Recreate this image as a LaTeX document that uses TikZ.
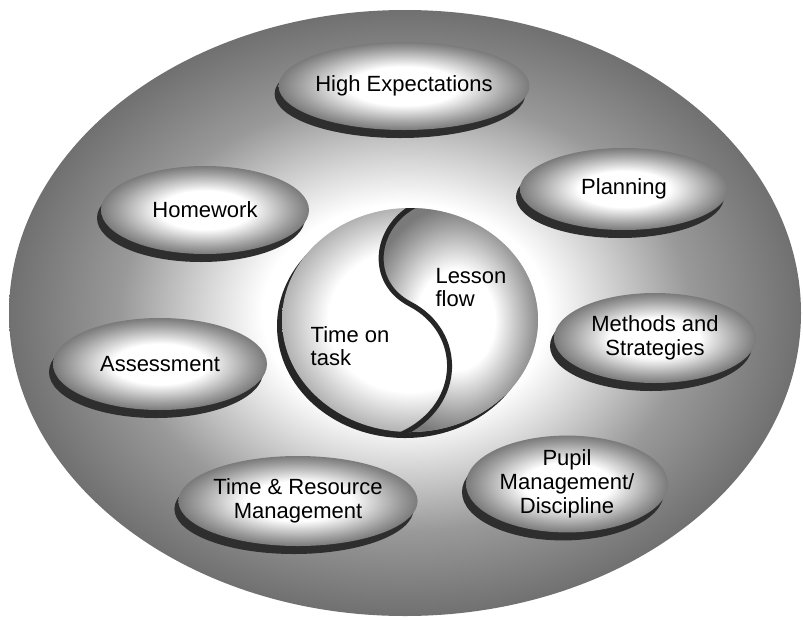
\documentclass[tikz,border=0pt]{standalone}
\usepackage{fontspec}
\setmainfont{Liberation Sans}
\usetikzlibrary{shapes.geometric,shadows}
\pgfdeclareradialshading{blobshade}{\pgfpoint{0bp}{0bp}}{color(0bp)=(white); color(11bp)=(white); color(21bp)=(black!38); color(25bp)=(black!52); color(50bp)=(black!52)}
\pgfdeclareradialshading{bgshade}{\pgfpoint{0bp}{0bp}}{color(0bp)=(white); color(9bp)=(white); color(18bp)=(black!40); color(25bp)=(black!56); color(50bp)=(black!56)}
\pgfdeclareradialshading{leftshade}{\pgfpoint{0bp}{0bp}}{color(0bp)=(white); color(16bp)=(white); color(25bp)=(black!30); color(50bp)=(black!30)}
\tikzset{
  topic/.style={ellipse, shade, shading=blobshade, inner sep=0pt,
    minimum width=208pt, minimum height=88pt, align=center,
    font=\fontsize{22}{24}\selectfont,
    drop shadow={shadow xshift=-4pt, shadow yshift=-8pt, fill=black!82, opacity=1}},
  backdrop/.style={ellipse, shade, shading=bgshade, inner sep=0pt},
  coretext/.style={align=left, inner sep=0pt, font=\fontsize{22}{23}\selectfont},
  sband/.style={line width=5pt, draw=black!85}
}
\begin{document}
\begin{tikzpicture}[x=1pt,y=-1pt]
\useasboundingbox (0,0) rectangle (803,619);
% background
\node[backdrop, minimum width=792pt, minimum height=606pt] (bg) at (405,313) {};
% topic ellipses
\node[topic] (he) at (404,86) {High Expectations};
\node[topic, minimum height=82pt] (pl) at (624,189) {Planning};
\node[topic] (hw) at (205,210) {Homework};
\node[topic, minimum width=202pt, minimum height=90pt] (ms) at (655,338) {Methods and\\Strategies};
\node[topic, minimum width=214pt, minimum height=92pt] (as) at (160,364) {Assessment};
\node[topic, minimum width=202pt, minimum height=92pt] (pm) at (567,484) {Pupil\\Management/\\Discipline};
\node[topic, minimum width=210pt, minimum height=90pt] (tr) at (298,501) {Time \& Resource\\Management};
% central yin-yang circle
\node[ellipse, minimum width=256pt, minimum height=224pt, inner sep=0pt,
  shade, shading=leftshade,
  drop shadow={shadow xshift=-5pt, shadow yshift=-6pt, fill=black!85, opacity=1}] (core) at (410,320) {};
\begin{scope}
  \clip (410,320) ellipse [x radius=128pt, y radius=112pt];
  \shade[shading=blobshade] (412,206) .. controls (372,228) and (366,282) .. (408,304)
     .. controls (462,332) and (462,405) .. (400,434) -- (545,434) -- (545,206) -- cycle;
  \draw[sband] ([xshift=2pt]412,206) .. controls ([xshift=2pt]372,228) and ([xshift=2pt]366,282) .. ([xshift=2pt]408,304)
     .. controls ([xshift=2pt]462,332) and ([xshift=2pt]462,405) .. ([xshift=2pt]400,434);
\end{scope}
\node[coretext] (tot) at (350,346) {Time on\\task};
\node[coretext] (lf) at (471,288) {Lesson\\flow};
\end{tikzpicture}
\end{document}
